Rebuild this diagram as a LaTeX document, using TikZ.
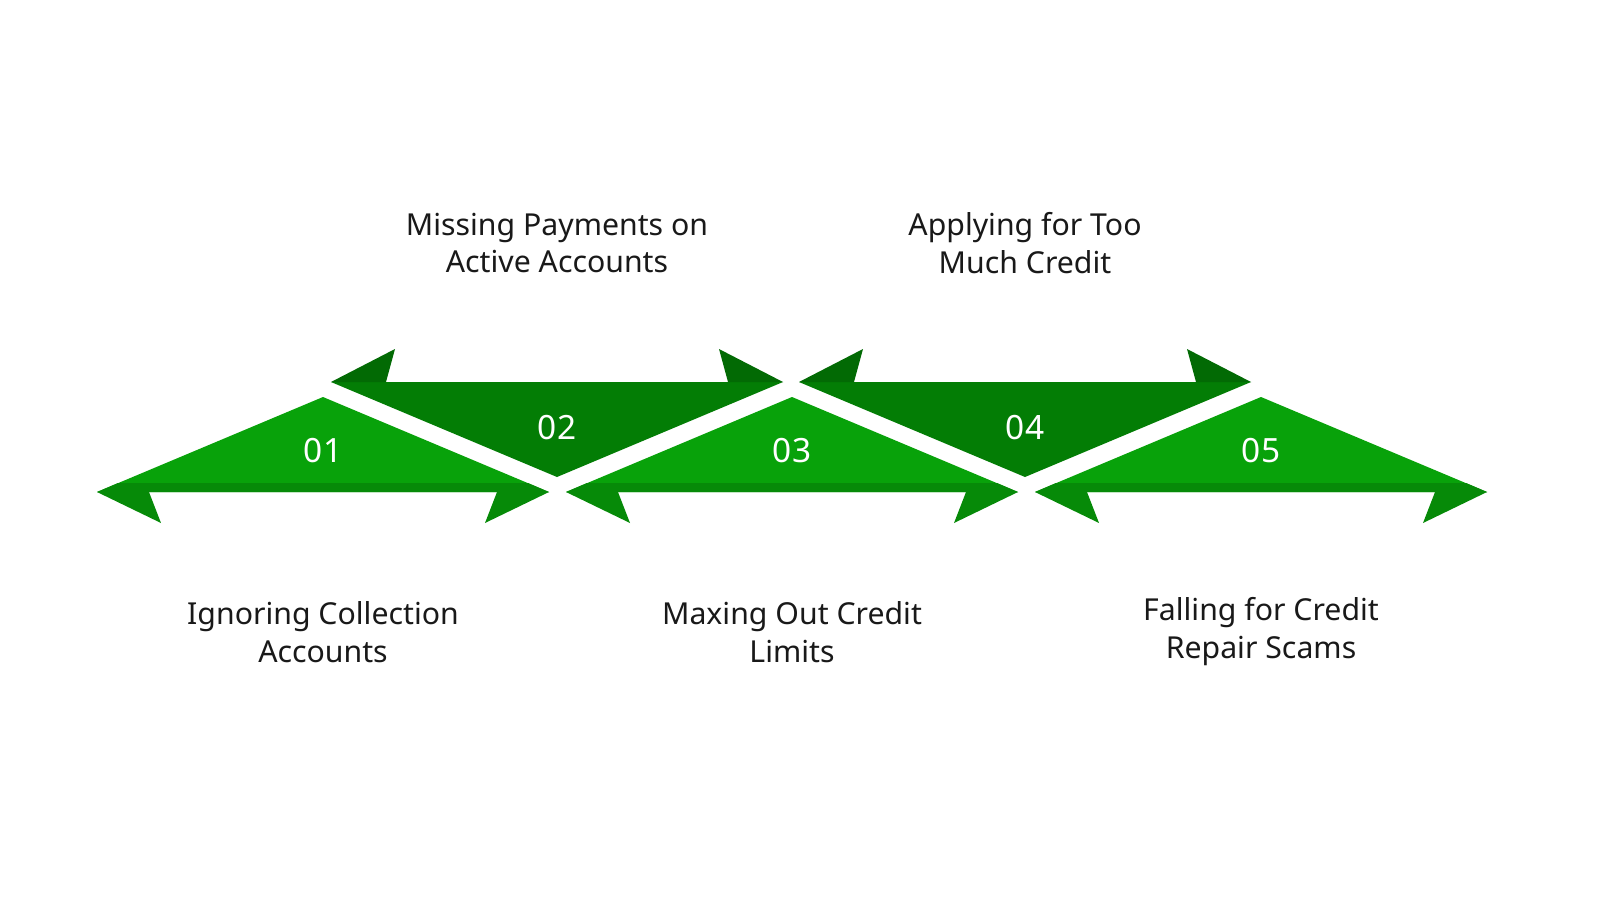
\documentclass[tikz,border=0pt]{standalone}
\usepackage{fontspec}
\setmainfont{Noto Sans}
\definecolor{gmain}{HTML}{08A20A}
\definecolor{gdark}{HTML}{037D05}
\definecolor{gbarb}{HTML}{068A08}
\definecolor{gbarbd}{HTML}{026A04}
\begin{document}
\begin{tikzpicture}[x=0.01cm,y=-0.01cm,
  num/.style={text=white,font=\fontsize{9.5}{11}\selectfont\bfseries},
  lbl/.style={align=center,font=\fontsize{8.6}{10.8}\selectfont,text=black!90}]
\fill[white] (0,0) rectangle (1600,900);
% up shapes
\foreach \cx/\n in {323/1,792/3,1261/5}{
  \fill[gmain] (\cx,397) -- (\cx+226,492) -- (\cx-226,492) -- cycle;
  \fill[gbarb] (\cx-226,492) -- (\cx-162,523) -- (\cx-174,492) -- cycle;
  \fill[gbarb] (\cx+226,492) -- (\cx+162,523) -- (\cx+174,492) -- cycle;
  \fill[gbarb] (\cx-226,492) -- (\cx+226,492) -- (\cx+205,483) -- (\cx-205,483) -- cycle;
}
% down shapes
\foreach \cx in {557,1025}{
  \fill[gdark] (\cx,477) -- (\cx+226,382) -- (\cx-226,382) -- cycle;
  \fill[gbarbd] (\cx-226,382) -- (\cx-162,349) -- (\cx-171,382) -- cycle;
  \fill[gbarbd] (\cx+226,382) -- (\cx+162,349) -- (\cx+171,382) -- cycle;
}
\node[num] (n1) at (323,451) {01};
\node[num] (n2) at (557,428) {02};
\node[num] (n3) at (792,451) {03};
\node[num] (n4) at (1025,428) {04};
\node[num] (n5) at (1261,451) {05};
\node[lbl] (l1) at (323,632) {Ignoring Collection\\Accounts};
\node[lbl] (l2) at (557,243) {Missing Payments on\\Active Accounts};
\node[lbl] (l3) at (792,632) {Maxing Out Credit\\Limits};
\node[lbl] (l4) at (1025,243) {Applying for Too\\Much Credit};
\node[lbl] (l5) at (1261,632) {Falling for Credit\\Repair Scams};
\end{tikzpicture}
\end{document}
